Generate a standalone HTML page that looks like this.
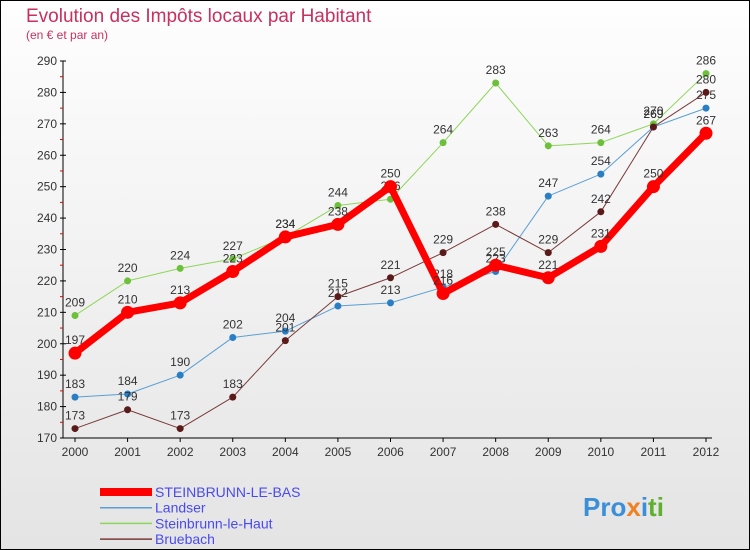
<!DOCTYPE html>
<html><head><meta charset="utf-8"><style>
body{margin:0;}
svg{display:block;font-family:"Liberation Sans",sans-serif;}
</style></head><body>
<svg id="c" width="750" height="550" xmlns="http://www.w3.org/2000/svg">
<defs><linearGradient id="bg" x1="0" y1="0" x2="0" y2="1"><stop offset="0" stop-color="#fefefe"/><stop offset="1" stop-color="#e4e4e4"/></linearGradient></defs>
<rect x="0.5" y="0.5" width="749" height="549" fill="url(#bg)" stroke="#000"/>
<text x="26" y="22" font-size="19" fill="#c8305f">Evolution des Impôts locaux par Habitant</text>
<text x="26" y="39" font-size="12" fill="#c8305f">(en € et par an)</text>
<g id="axes"></g>
<g id="series"></g>
<g id="legend"></g>
<text x="583" y="516" font-size="26" font-weight="bold" fill="#3a8fd8">Pro<tspan fill="#f08020">x</tspan><tspan fill="#3a8fd8">i</tspan><tspan fill="#60b030">ti</tspan></text>
</svg>
<script>
const years=[2000,2001,2002,2003,2004,2005,2006,2007,2008,2009,2010,2011,2012];
const yTicks=[170,180,190,200,210,220,230,240,250,260,270,280,290];
const seriesNames=["STEINBRUNN-LE-BAS","Landser","Steinbrunn-le-Haut","Bruebach"];
const sBas=[197,210,213,223,234,238,250,216,225,221,231,250,267];
const sLandser=[183,184,190,202,204,212,213,218,223,247,254,269,275];
const sHaut=[209,220,224,227,234,244,246,264,283,263,264,270,286];
const sBruebach=[173,179,173,183,201,215,221,229,238,229,242,269,280];
const NS="http://www.w3.org/2000/svg";
const x0=75,x1=706,yb=438,yt=61,vmin=170,vmax=290;
const X=i=>x0+(x1-x0)*i/(years.length-1);
const Y=v=>yb-(yb-yt)*(v-vmin)/(vmax-vmin);
function mk(tag,attrs,parent,txt){const e=document.createElementNS(NS,tag);for(const k in attrs)e.setAttribute(k,attrs[k]);if(txt!==undefined)e.textContent=txt;parent.appendChild(e);return e;}
const ax=document.getElementById('axes');
let l=mk('line',{x1:63,y1:yt,x2:63,y2:yb,stroke:'#000'},ax);


l=mk('line',{x1:63,y1:yb,x2:712,y2:yb,stroke:'#000'},ax);


yTicks.forEach((v,i)=>{
 mk('line',{x1:60,y1:Y(v),x2:66,y2:Y(v),stroke:'#000'},ax);
 if(i<yTicks.length-1) mk('line',{x1:60,y1:Y(v+5),x2:63,y2:Y(v+5),stroke:'#e00'},ax);
 const t=mk('text',{x:57,y:Y(v)+4,'font-size':12,fill:'#333','text-anchor':'end'},ax,v);
 
 
});
years.forEach((yr,i)=>{
 mk('line',{x1:X(i),y1:yb,x2:X(i),y2:yb+4,stroke:'#000'},ax);
 const t=mk('text',{x:X(i),y:yb+18,'font-size':12,fill:'#333','text-anchor':'middle'},ax,yr);
 
 
});
const sg=document.getElementById('series');
const defs=[[sLandser,'#5a9fd4','#2a7fc4',1,3.5,'landser'],[sHaut,'#8ed65a','#6cc03a',1,3.5,'steinbrunn-le-haut'],[sBruebach,'#7a3a3a','#5a1a1a',1,3.5,'bruebach'],[sBas,'#ff0000','#ff0000',7,6.5,'steinbrunn-le-bas']];
defs.forEach(([data,lc,pc,w,r,name])=>{
 const g=mk('g',{},sg);
 
 
 const p=mk('polyline',{points:data.map((v,i)=>X(i)+','+Y(v)).join(' '),fill:'none',stroke:lc,'stroke-width':w,'stroke-linejoin':'round'},g);
 
 
 data.forEach((v,i)=>{
  const c=mk('circle',{cx:X(i),cy:Y(v),r:r,fill:pc},g);
  
  
  const t=mk('text',{x:X(i),y:Y(v)-9,'font-size':12,fill:'#333','text-anchor':'middle'},g,v);
  
  
 });
});
const lg=document.getElementById('legend');
const lcols=['#ff0000','#5a9fd4','#8ed65a','#7a3a3a'];
const lw=[8,1.5,1.5,1.5];
seriesNames.forEach((n,i)=>{
 const y=492+i*15.7;
 const g=mk('g',{},lg);
 
 
 mk('line',{x1:100,y1:y,x2:152,y2:y,stroke:lcols[i],'stroke-width':lw[i]},g);
 mk('text',{x:155,y:y+5,'font-size':14,fill:'#4a4af0'},g,n);
});
</script>
</body></html>
